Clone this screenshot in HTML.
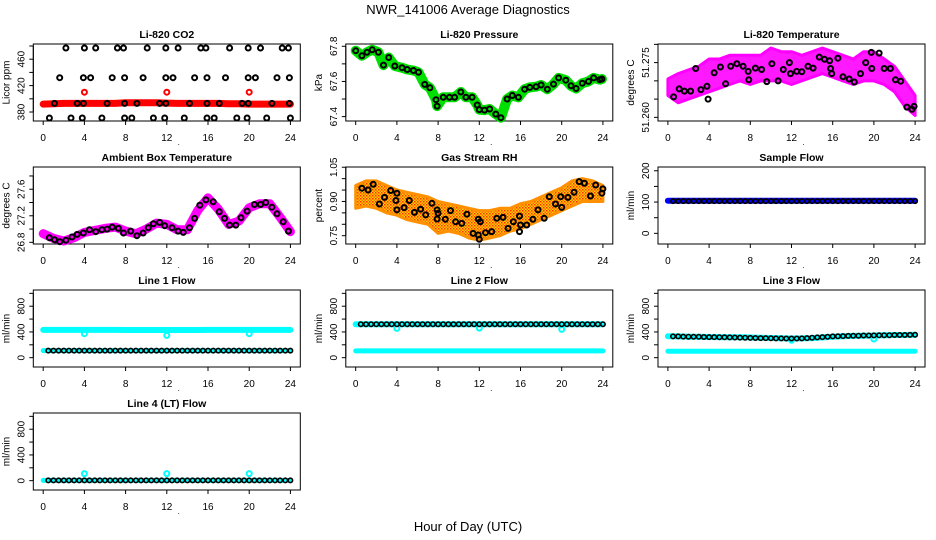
<!DOCTYPE html>
<html><head><meta charset="utf-8"><style>
body{margin:0;background:#fff;}
svg{display:block;font-family:"Liberation Sans",sans-serif;}
</style></head><body>
<svg id="chart" width="936" height="540" viewBox="0 0 936 540" xmlns="http://www.w3.org/2000/svg">
<defs>
<pattern id="rhpat" width="3" height="3" patternUnits="userSpaceOnUse">
<rect width="3" height="3" fill="#ffd000"/><rect width="1.5" height="1.5" fill="#ff3000"/><rect x="1.5" y="1.5" width="1.5" height="1.5" fill="#ff6a00"/>
</pattern>
</defs>
<text x="468" y="14" text-anchor="middle" font-size="13">NWR_141006  Average Diagnostics</text>
<text x="468" y="531" text-anchor="middle" font-size="13">Hour of Day (UTC)</text>
</svg>
<script>
// ---------- data ----------
const xTicks = [0,4,8,12,16,20,24];
const xTickLabels = ["0","4","8","12","16","20","24"];
const hourly = [0,1,2,3,4,5,6,7,8,9,10,11,12,13,14,15,16,17,18,19,20,21,22,23,24];
const flowHours = [0.5,1,1.5,2,2.5,3,3.5,4,4.5,5,5.5,6,6.5,7,7.5,8,8.5,9,9.5,10,10.5,11,11.5,12,12.5,13,13.5,14,14.5,15,15.5,16,16.5,17,17.5,18,18.5,19,19.5,20,20.5,21,21.5,22,22.5,23,23.5,24];

// CO2
const co2Hours = [2.2,4.0,5.1,7.2,7.8,10.1,11.9,13.1,15.3,15.8,18.1,19.9,21.1,23.2,23.8,
 1.6,3.9,4.6,6.7,7.9,9.7,11.9,12.6,14.7,15.9,17.7,19.9,20.6,22.7,23.9,
 1.1,3.3,3.9,6.2,7.9,9.1,11.3,11.9,14.2,15.9,17.1,19.3,19.9,22.2,23.9,
 0.6,2.7,3.8,5.7,7.9,8.6,10.7,11.8,13.7,15.9,16.6,18.8,19.8,21.7,24.0];
const co2Vals = [477,477,477,477,477,477,477,477,477,477,477,477,477,477,477,
 432,432,432,432,432,432,432,432,432,432,432,432,432,432,432,
 393,393,393,393,393,393,393,393,393,393,393,393,393,393,393,
 371,371,371,371,371,371,371,371,371,371,371,371,371,371,371];
const co2Red = [392,392.5,393,393,393,393,393,393,394,394,394,394,393.5,393,393,393,393,393,392.5,392.5,392,392,392,392,392];
const co2RedOutHours = [4,12,20];
const co2RedOutVals = [410,410,410];

// Pressure
const presHours = [0,0.6,1.1,1.6,2.2,2.7,3.2,3.8,4.5,5,5.6,6.1,6.7,7.2,7.8,7.9,8.5,9.1,9.6,10.2,10.7,11.3,11.8,12.0,12.5,13.0,13.6,14.1,14.7,15.2,15.8,16.4,16.9,17.5,18.0,18.6,19.2,19.7,20.4,20.9,21.4,22.0,22.6,23.1,23.7,23.9];
const presVals = [67.775,67.746,67.766,67.78,67.766,67.693,67.736,67.688,67.678,67.668,67.662,67.652,67.583,67.564,67.496,67.46,67.51,67.51,67.51,67.54,67.51,67.51,67.466,67.44,67.437,67.443,67.414,67.394,67.5,67.52,67.51,67.556,67.566,67.57,67.58,67.556,67.585,67.62,67.607,67.575,67.56,67.59,67.6,67.62,67.61,67.614];

// Li-820 temperature
const tempHours = [0.55,1.1,1.6,2.2,2.7,3.2,3.8,3.9,4.5,5.1,5.6,6.1,6.7,7.3,7.8,7.85,8.5,9.1,9.6,10.1,10.7,11.2,11.8,11.9,12.5,13.0,13.6,14.1,14.7,15.2,15.7,15.8,15.9,16.5,17.0,17.6,18.1,18.7,19.2,19.75,19.8,20.5,21.0,21.6,22.1,22.6,23.2,23.7,23.9];
const tempVals = [51.2656,51.2678,51.2672,51.2672,51.2734,51.2676,51.2685,51.265,51.2722,51.2738,51.2692,51.274,51.2747,51.274,51.2726,51.2703,51.2735,51.2731,51.2698,51.2747,51.27,51.2731,51.275,51.272,51.2726,51.2725,51.274,51.2735,51.2765,51.2759,51.2755,51.2734,51.272,51.2762,51.2711,51.2705,51.2697,51.272,51.275,51.2778,51.2734,51.2776,51.2734,51.2734,51.2703,51.2699,51.2628,51.2622,51.263];
const tempCloudLo = [51.266,51.264,51.265,51.266,51.267,51.268,51.269,51.270,51.269,51.270,51.270,51.270,51.269,51.270,51.271,51.272,51.271,51.270,51.269,51.270,51.270,51.269,51.267,51.263,51.2605];
const tempCloudHi = [51.2705,51.272,51.273,51.274,51.276,51.276,51.277,51.277,51.277,51.277,51.279,51.278,51.278,51.277,51.278,51.279,51.278,51.277,51.276,51.278,51.278,51.276,51.274,51.270,51.266];

// Ambient box temperature
const ambHours = [0.6,1.1,1.6,2.2,2.8,3.3,3.9,4.5,5.1,5.7,6.2,6.7,7.3,7.8,8.5,9.1,9.7,10.2,10.7,11.3,11.8,12.5,13.1,13.6,14.2,14.7,15.2,15.8,16.5,17.1,17.6,18.1,18.7,19.2,19.8,20.5,21.1,21.6,22.2,22.7,23.3,23.8];
const ambVals = [26.87,26.84,26.81,26.83,26.88,26.92,26.94,26.99,26.96,26.99,27.0,27.03,27.01,26.94,26.97,26.9,26.94,27.02,27.08,27.1,27.05,27.02,26.97,26.95,27.02,27.16,27.36,27.44,27.41,27.26,27.16,27.06,27.06,27.17,27.27,27.37,27.37,27.4,27.33,27.23,27.11,26.97];
const ambBand = [26.93,26.86,26.82,26.87,26.95,26.98,27.01,27.03,26.97,26.93,27.0,27.09,27.07,26.99,26.99,27.28,27.47,27.3,27.07,27.12,27.32,27.38,27.38,27.18,26.96];

// Gas stream RH
const rhHours = [0.6,1.2,1.7,2.3,2.8,3.4,4.0,3.9,4.0,4.7,5.2,5.7,6.3,6.8,7.4,7.9,8.0,7.9,8.7,9.2,9.7,10.3,10.8,11.4,11.9,11.9,12.0,12.1,12.6,13.2,13.7,14.3,14.8,15.3,15.9,16.0,15.9,16.6,17.2,17.7,18.3,18.8,19.4,19.9,20.0,20.6,21.2,21.7,22.2,22.8,23.3,23.9,24.0];
const rhVals = [0.958,0.95,0.975,0.889,0.918,0.948,0.936,0.904,0.863,0.873,0.904,0.852,0.866,0.841,0.892,0.863,0.848,0.823,0.822,0.86,0.811,0.804,0.844,0.76,0.822,0.753,0.734,0.811,0.763,0.768,0.826,0.83,0.782,0.811,0.836,0.797,0.768,0.797,0.822,0.863,0.826,0.921,0.889,0.921,0.874,0.918,0.94,0.987,0.98,0.924,0.972,0.936,0.955];
const rhCloudLo = [0.87,0.88,0.87,0.85,0.84,0.82,0.81,0.80,0.76,0.77,0.76,0.74,0.73,0.74,0.75,0.77,0.78,0.80,0.82,0.84,0.86,0.88,0.90,0.90,0.90];
const rhCloudHi = [0.97,0.99,0.99,0.97,0.95,0.94,0.93,0.92,0.90,0.89,0.88,0.87,0.86,0.86,0.87,0.87,0.89,0.90,0.92,0.94,0.96,0.99,1.00,0.99,0.97];

// Sample flow
const sampleBlue = [104,104,104,104,104,104,104,104,104,104,104,104,104,104,104,104,104,104,104,104,104,104,104,104,104];
const sampleBlack = [103,103,103,103,103,103,103,103,103,103,103,103,103,103,103,103,103,103,103,103,103,103,103,103,103,103,103,103,103,103,103,103,103,103,103,103,103,103,103,103,103,103,103,103,103,103,103,103];

// Line flows
const line1CyanHi = [432,432,432,432,432,432,432,432,430,430,430,430,430,430,430,430,432,432,432,432,432,432,432,432,432];
const line1CyanLo = [110,110,110,110,110,110,110,110,110,110,110,110,110,110,110,110,110,110,110,110,110,110,110,110,110];
const line1Black = [110,110,110,110,110,110,110,110,110,110,110,110,110,110,110,110,110,110,110,110,110,110,110,110,110,110,110,110,110,110,110,110,110,110,110,110,110,110,110,110,110,110,110,110,110,110,110,110];
const line1DipHours = [4,12,20];
const line1DipVals = [372,346,372];

const line2CyanHi = [520,520,520,520,520,520,520,520,520,520,520,520,520,520,520,520,520,520,520,520,520,520,520,520,520];
const line2CyanLo = [105,105,105,105,105,105,105,105,105,105,105,105,105,105,105,105,105,105,105,105,105,105,105,105,105];
const line2Black = [520,520,520,520,520,520,520,520,520,520,520,520,520,520,520,520,520,520,520,520,520,520,520,520,520,520,520,520,520,520,520,520,520,520,520,520,520,520,520,520,520,520,520,520,520,520,520,520];
const line2DipHours = [4,12,20];
const line2DipVals = [455,460,440];

const line3CyanHi = [332,330,326,324,322,320,318,316,314,310,306,302,298,300,305,315,325,332,338,342,345,348,352,353,355];
const line3CyanLo = [100,100,100,100,100,100,100,100,100,100,100,100,100,100,100,100,100,100,100,100,100,100,100,100,100];
const line3Black = [330,330,328,326,325,324,322,320,320,318,316,315,314,312,310,308,306,305,304,302,300,300,298,298,298,300,305,310,315,320,325,330,332,335,338,340,342,344,345,346,348,350,350,352,352,353,354,355];
const line3DipHours = [12,20];
const line3DipVals = [270,290];

const line4Cyan = [5,5,5,5,5,5,5,5,5,5,5,5,5,5,5,5,5,5,5,5,5,5,5,5,5];
const line4Black = [5,5,5,5,5,5,5,5,5,5,5,5,5,5,5,5,5,5,5,5,5,5,5,5,5,5,5,5,5,5,5,5,5,5,5,5,5,5,5,5,5,5,5,5,5,5,5,5];
const line4OutHours = [4,12,20];
const line4OutVals = [110,110,110];

// ---------- drawing ----------
const NS = "http://www.w3.org/2000/svg";
const svg = document.getElementById("chart");
function mk(tag, attrs, parent){
  const e = document.createElementNS(NS, tag);
  for (const k in attrs) e.setAttribute(k, attrs[k]);
  (parent || svg).appendChild(e);
  return e;
}
const colLeft = [33.3, 345.8, 658];
const W = 267, H = 77;

function panel(name, col, row, ymin, ymax, yTicks, yLabels, ylab, title){
  const left = colLeft[col], top = 44 + row*123, bottom = top + H;
  const g = mk("g", {});
  
  
  const xs = t => left + (t + 0.96) / 25.92 * W;
  const ys = v => bottom - (v - ymin) / (ymax - ymin) * H;
  const P = {g, xs, ys, left, top, bottom};
  const tt = mk("text", {x: left + W/2, y: top - 6, "text-anchor": "middle", "font-size": "10.5", "font-weight": "bold"}, g);
  tt.textContent = title;
  
  
  const xa = mk("g", {}, g);
  
  
  mk("line", {x1: xs(xTicks[0]), x2: xs(xTicks[xTicks.length-1]), y1: bottom, y2: bottom, stroke: "#000"}, xa);
  xTicks.forEach((t, i) => {
    mk("line", {x1: xs(t), x2: xs(t), y1: bottom, y2: bottom + 4, stroke: "#000"}, xa);
    const l = mk("text", {x: xs(t), y: bottom + 20, "text-anchor": "middle", "font-size": "10"}, xa);
    l.textContent = xTickLabels[i];
  });
  const dot = mk("text", {x: left + W/2 + 12, y: bottom + 24, "text-anchor": "middle", "font-size": "8"}, xa);
  dot.textContent = ".";
  const ya = mk("g", {}, g);
  
  
  mk("line", {x1: left, x2: left, y1: ys(yTicks[0]), y2: ys(yTicks[yTicks.length-1]), stroke: "#000"}, ya);
  yTicks.forEach((v, i) => {
    mk("line", {x1: left - 4, x2: left, y1: ys(v), y2: ys(v), stroke: "#000"}, ya);
    if (yLabels[i]) {
      const lx = left - 9, ly = ys(v);
      const l = mk("text", {x: lx, y: ly, "text-anchor": "middle", "font-size": "10", transform: `rotate(-90 ${lx} ${ly})`}, ya);
      l.textContent = yLabels[i];
    }
  });
  const yl = mk("text", {x: left - 24, y: top + H/2, "text-anchor": "middle", "font-size": "10", transform: `rotate(-90 ${left-24} ${top+H/2})`}, g);
  yl.textContent = ylab;
  
  
  const bx = mk("rect", {x: left, y: top, width: W, height: H, fill: "none", stroke: "#000", "stroke-width": "1"}, g);
  
  
  return P;
}
function band(P, hours, vals, color, width, nm){
  const pts = hours.map((h, i) => P.xs(h).toFixed(1) + "," + P.ys(vals[i]).toFixed(1)).join(" ");
  const e = mk("polyline", {points: pts, fill: "none", stroke: color, "stroke-width": width, "stroke-linejoin": "round", "stroke-linecap": "round"}, P.g);
  
  
}
function cloud(P, hours, lo, hi, fill, nm){
  const a = hours.map((h, i) => P.xs(h).toFixed(1) + "," + P.ys(hi[i]).toFixed(1));
  const b = hours.map((h, i) => P.xs(h).toFixed(1) + "," + P.ys(lo[i]).toFixed(1)).reverse();
  const e = mk("polygon", {points: a.concat(b).join(" "), fill: fill, "fill-opacity": fill === "url(#rhpat)" ? "1" : "0.9", stroke: fill === "url(#rhpat)" ? "#ff9000" : fill, "stroke-width": "3", "stroke-linejoin": "round"}, P.g);
  
  
}
function points(P, hours, vals, color, nm, r, sw){
  const g = mk("g", {}, P.g);
  
  
  hours.forEach((h, i) => {
    const c = mk("circle", {cx: P.xs(h).toFixed(1), cy: P.ys(vals[i]).toFixed(1), r: r || 2.5, fill: "none", stroke: color, "stroke-width": sw || 2}, g);
    
    
  });
}

P = panel("co2", 0, 0, 366.4, 483, [380,400,420,440,460,480], ["380","","420","","460",""], "Licor ppm", "Li-820 CO2");
band(P, hourly, co2Red, "#ff0000", 7, "co2-red-series");
points(P, co2RedOutHours, co2RedOutVals, "#ff0000", "co2-red-outliers");
points(P, co2Hours, co2Vals, "#000", "co2-black-series");

P = panel("pressure", 1, 0, 67.375, 67.813, [67.4,67.5,67.6,67.7,67.8], ["67.4","","67.6","","67.8"], "kPa", "Li-820 Pressure");
band(P, presHours, presVals, "#00e000", 10, "pressure-green-series");
points(P, presHours, presVals, "#000", "pressure-black-series");

P = panel("li820-temp", 2, 0, 51.259, 51.2801, [51.260,51.265,51.270,51.275,51.280], ["51.260","","","51.275",""], "degrees C", "Li-820 Temperature");
cloud(P, hourly, tempCloudLo, tempCloudHi, "#ff00ff", "li820-temp-magenta-cloud");
points(P, tempHours, tempVals, "#000", "li820-temp-black-series");

P = panel("ambient-temp", 0, 1, 26.775, 27.935, [26.8,27.0,27.2,27.4,27.6,27.8], ["26.8","","27.2","","27.6",""], "degrees C", "Ambient Box Temperature");
band(P, hourly, ambBand, "#ff00ff", 9, "ambient-magenta-series");
points(P, ambHours, ambVals, "#000", "ambient-black-series");

P = panel("rh", 1, 1, 0.7136, 1.051, [0.75,0.80,0.85,0.90,0.95,1.00,1.05], ["0.75","","","0.90","","","1.05"], "percent", "Gas Stream RH");
cloud(P, hourly, rhCloudLo, rhCloudHi, "url(#rhpat)", "rh-orange-cloud");
points(P, rhHours, rhVals, "#000", "rh-black-series");

P = panel("sample-flow", 2, 1, -34, 212, [0,50,100,150,200], ["0","","100","","200"], "ml/min", "Sample Flow");
band(P, hourly, sampleBlue, "#0000ff", 6, "sample-flow-blue-series");
points(P, flowHours, sampleBlack, "#000", "sample-flow-black-series", 2.2, 1.6);

const fT = [0,200,400,600,800,1000], fL = ["0","","400","","800",""];
P = panel("line1-flow", 0, 2, -145, 1052, fT, fL, "ml/min", "Line 1 Flow");
band(P, hourly, line1CyanHi, "#00ffff", 6, "line1-cyan-high-series");
band(P, hourly, line1CyanLo, "#00ffff", 5, "line1-cyan-low-series");
points(P, line1DipHours, line1DipVals, "#00ffff", "line1-cyan-dips");
points(P, flowHours, line1Black, "#000", "line1-black-series", 2.2, 1.6);

P = panel("line2-flow", 1, 2, -145, 1052, fT, fL, "ml/min", "Line 2 Flow");
band(P, hourly, line2CyanHi, "#00ffff", 6, "line2-cyan-high-series");
band(P, hourly, line2CyanLo, "#00ffff", 5, "line2-cyan-low-series");
points(P, line2DipHours, line2DipVals, "#00ffff", "line2-cyan-dips");
points(P, flowHours, line2Black, "#000", "line2-black-series", 2.2, 1.6);

P = panel("line3-flow", 2, 2, -145, 1052, fT, fL, "ml/min", "Line 3 Flow");
band(P, hourly, line3CyanHi, "#00ffff", 6, "line3-cyan-high-series");
band(P, hourly, line3CyanLo, "#00ffff", 5, "line3-cyan-low-series");
points(P, line3DipHours, line3DipVals, "#00ffff", "line3-cyan-dips");
points(P, flowHours, line3Black, "#000", "line3-black-series", 2.2, 1.6);

P = panel("line4-flow", 0, 3, -145, 1052, fT, fL, "ml/min", "Line 4 (LT) Flow");
band(P, hourly, line4Cyan, "#00ffff", 5, "line4-cyan-series");
points(P, line4OutHours, line4OutVals, "#00ffff", "line4-cyan-outliers");
points(P, flowHours, line4Black, "#000", "line4-black-series", 2.2, 1.6);
</script>
</body></html>
